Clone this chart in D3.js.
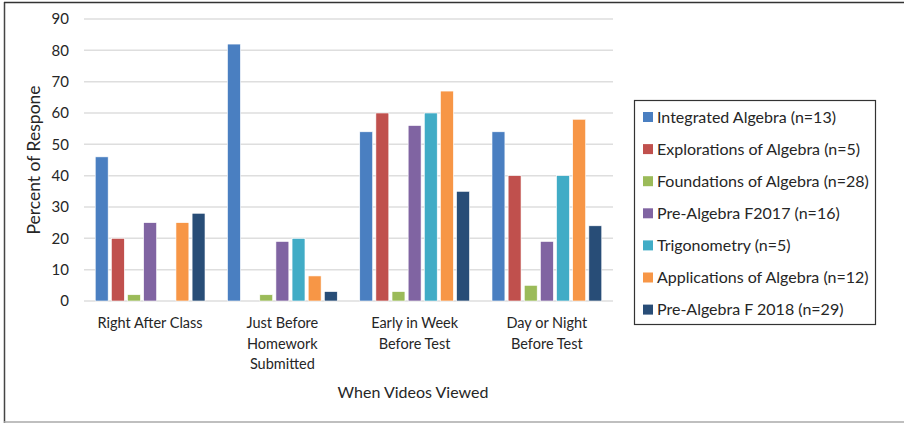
<!DOCTYPE html>
<html>
<head>
<meta charset="utf-8">
<script src="https://cdn.jsdelivr.net/npm/d3@7"></script>
<style>
  body { margin: 0; background: #fff; }
  text { font-family: Lato, "Open Sans", sans-serif; fill: #262626; }
</style>
</head>
<body>
<svg width="904" height="423"></svg>
<script>
const width = 904
const height = 423

const categories = [
  ["Right After Class"],
  ["Just Before", "Homework", "Submitted"],
  ["Early in Week", "Before Test"],
  ["Day or Night", "Before Test"]
]
const seriesNames = [
  "Integrated Algebra (n=13)",
  "Explorations of Algebra (n=5)",
  "Foundations of Algebra (n=28)",
  "Pre-Algebra F2017 (n=16)",
  "Trigonometry (n=5)",
  "Applications of Algebra (n=12)",
  "Pre-Algebra F 2018 (n=29)"
]
const colors = ["#4A7FC1", "#C0504D", "#9BBB59", "#8064A2", "#41ACC6", "#F79646", "#284D77"]
// one array per series, in category order
const integrated   = [46, 82, 54, 54]
const explorations = [20, 0, 60, 40]
const foundations  = [2, 2, 3, 5]
const preAlg2017   = [25, 19, 56, 19]
const trig         = [0, 20, 60, 40]
const applications = [25, 8, 67, 58]
const preAlg2018   = [28, 3, 35, 24]
const yTicks = [0, 10, 20, 30, 40, 50, 60, 70, 80, 90]

const series = [integrated, explorations, foundations, preAlg2017, trig, applications, preAlg2018]

const svg = d3.select("svg")

// outer chart border (only left, top, bottom visible in the crop)
svg.append("line").attr("x1", 4.5).attr("x2", 4.5).attr("y1", 2).attr("y2", 423)
  .attr("stroke", "#444").attr("stroke-width", 1.5)
svg.append("line").attr("x1", 4).attr("x2", 904).attr("y1", 2.5).attr("y2", 2.5)
  .attr("stroke", "#333").attr("stroke-width", 1.5)
svg.append("line").attr("x1", 4).attr("x2", 904).attr("y1", 422).attr("y2", 422)
  .attr("stroke", "#aaa").attr("stroke-width", 1.5)

const plot = {left: 84, right: 613, top: 19, bottom: 301}

const x0 = d3.scaleBand()
  .domain(d3.range(categories.length))
  .range([plot.left, plot.right])
  .paddingInner(0.17)
  .paddingOuter(0.085)

const x1 = d3.scaleBand()
  .domain(d3.range(series.length))
  .range([0, x0.bandwidth()])
  .paddingInner(0.2)

const y = d3.scaleLinear().domain([0, 90]).range([plot.bottom, plot.top])

// gridlines
svg.append("g").selectAll("line")
  .data(yTicks).enter().append("line")
  .attr("x1", plot.left).attr("x2", plot.right)
  .attr("y1", d => y(d)).attr("y2", d => y(d))
  .attr("stroke", "#dedede").attr("stroke-width", 1.5)

// y tick labels
svg.append("g").selectAll("text")
  .data(yTicks).enter().append("text")
  .attr("x", 69).attr("y", d => y(d))
  .attr("dy", "0.35em")
  .attr("text-anchor", "end")
  .style("font-size", "15px")
  .text(d => d)

// bars
svg.append("g").selectAll("g")
  .data(categories).enter().append("g")
  .attr("transform", (d, i) => `translate(${x0(i)},0)`)
  .each(function(cat, ci) {
    d3.select(this).selectAll("rect")
      .data(series.map((s, si) => ({si, v: s[ci]})).filter(d => d.v > 0))
      .enter().append("rect")
      .attr("x", d => x1(d.si))
      .attr("width", x1.bandwidth())
      .attr("y", d => y(d.v))
      .attr("height", d => y(0) - y(d.v))
      .attr("fill", d => colors[d.si])
      .attr("stroke", "#fff").attr("stroke-width", 0.6)
  })

// category labels
svg.append("g").selectAll("text")
  .data(categories).enter().append("text")
  .attr("x", (d, i) => x0(i) + x0.bandwidth() / 2)
  .attr("y", 328)
  .attr("text-anchor", "middle")
  .style("font-size", "14.5px")
  .each(function(lines) {
    d3.select(this).selectAll("tspan")
      .data(lines).enter().append("tspan")
      .attr("x", d3.select(this).attr("x"))
      .attr("dy", (d, i) => i ? 20.5 : 0)
      .text(d => d)
  })

// axis titles
svg.append("text")
  .attr("x", 413).attr("y", 398)
  .attr("text-anchor", "middle")
  .style("font-size", "16px")
  .text("When Videos Viewed")

svg.append("text")
  .attr("transform", "translate(40,160) rotate(-90)")
  .attr("text-anchor", "middle")
  .style("font-size", "17.5px")
  .text("Percent of Respone")

// legend
const legend = svg.append("g")
legend.append("rect")
  .attr("x", 634.5).attr("y", 100.5).attr("width", 241).attr("height", 224)
  .attr("fill", "none").attr("stroke", "#333").attr("stroke-width", 1.2)

const item = legend.selectAll("g.item")
  .data(seriesNames).enter().append("g")
  .attr("class", "item")
  .attr("transform", (d, i) => `translate(643,${117 + i * 32.1})`)
item.append("rect")
  .attr("x", 0).attr("y", -5).attr("width", 10).attr("height", 10)
  .attr("fill", (d, i) => colors[i])
item.append("text")
  .attr("x", 14).attr("y", 0).attr("dy", "0.35em")
  .style("font-size", "16px")
  .text(d => d)
</script>
</body>
</html>
